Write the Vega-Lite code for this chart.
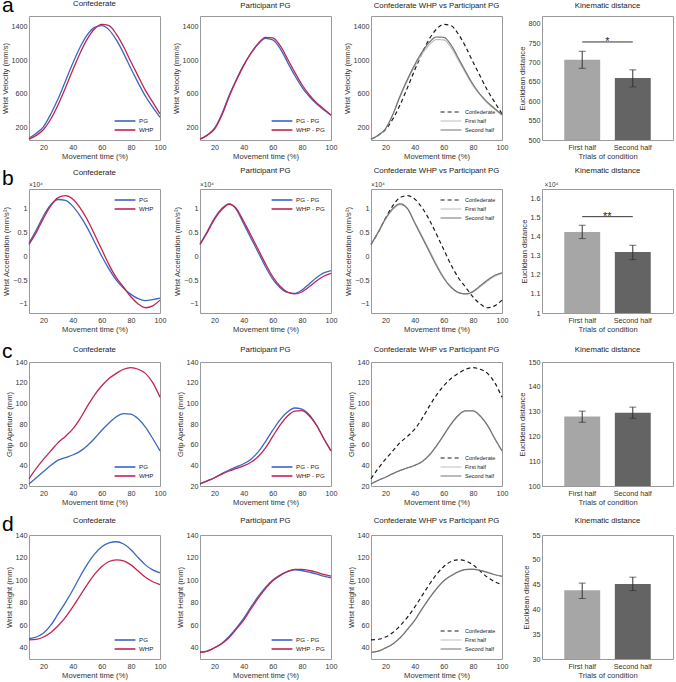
{
"$schema":"https://vega.github.io/schema/vega-lite/v6.json",
"background":"white",
"padding":{"left":0,"top":-6,"right":0,"bottom":0},
"columns":4,
"spacing":{"row":49,"column":40},
"bounds":"flush",
"resolve":{"scale":{"color":"independent","strokeDash":"independent","strokeWidth":"independent","x":"independent","y":"independent"},"legend":{"color":"independent","strokeDash":"independent","strokeWidth":"independent"}},
"config":{
 "font":"Liberation Sans",
 "view":{"stroke":"#9a9a9a","strokeWidth":1},
 "axis":{"grid":false,"ticks":false,"domain":false,"labelFontSize":7.2,"titleFontSize":7.6,"titleFontWeight":"normal","labelColor":"#333","titleColor":"#333","labelPadding":3,"titlePadding":2,"labelFlush":false,"labelOverlap":false},
 "axisY":{"labelPadding":2,"titlePadding":2},
 "title":{"fontSize":7.8,"fontWeight":"normal","color":"#222","offset":5},
 "legend":{"labelFontSize":6.2,"labelColor":"#222","symbolType":"M-2.6,0L2.6,0","symbolSize":64,"symbolStrokeWidth":1.6,"rowPadding":0,"padding":2,"offset":4,"labelOffset":9}
},
"datasets":{
"lines":[
{"g":"a1","s":"PG","t":10,"v":70},{"g":"a1","s":"PG","t":15,"v":130},{"g":"a1","s":"PG","t":20,"v":210},{"g":"a1","s":"PG","t":25,"v":360},{"g":"a1","s":"PG","t":30,"v":540},{"g":"a1","s":"PG","t":35,"v":750},{"g":"a1","s":"PG","t":40,"v":960},{"g":"a1","s":"PG","t":45,"v":1150},{"g":"a1","s":"PG","t":50,"v":1300},{"g":"a1","s":"PG","t":55,"v":1390},{"g":"a1","s":"PG","t":60,"v":1410},{"g":"a1","s":"PG","t":65,"v":1360},{"g":"a1","s":"PG","t":70,"v":1240},{"g":"a1","s":"PG","t":75,"v":1080},{"g":"a1","s":"PG","t":80,"v":900},{"g":"a1","s":"PG","t":85,"v":730},{"g":"a1","s":"PG","t":90,"v":570},{"g":"a1","s":"PG","t":95,"v":440},{"g":"a1","s":"PG","t":100,"v":320},
{"g":"a1","s":"WHP","t":10,"v":60},{"g":"a1","s":"WHP","t":15,"v":105},{"g":"a1","s":"WHP","t":20,"v":175},{"g":"a1","s":"WHP","t":25,"v":300},{"g":"a1","s":"WHP","t":30,"v":470},{"g":"a1","s":"WHP","t":35,"v":670},{"g":"a1","s":"WHP","t":40,"v":880},{"g":"a1","s":"WHP","t":45,"v":1080},{"g":"a1","s":"WHP","t":50,"v":1250},{"g":"a1","s":"WHP","t":55,"v":1370},{"g":"a1","s":"WHP","t":60,"v":1425},{"g":"a1","s":"WHP","t":65,"v":1410},{"g":"a1","s":"WHP","t":70,"v":1310},{"g":"a1","s":"WHP","t":75,"v":1160},{"g":"a1","s":"WHP","t":80,"v":980},{"g":"a1","s":"WHP","t":85,"v":810},{"g":"a1","s":"WHP","t":90,"v":640},{"g":"a1","s":"WHP","t":95,"v":500},{"g":"a1","s":"WHP","t":100,"v":360},
{"g":"a2","s":"PG - PG","t":10,"v":60},{"g":"a2","s":"PG - PG","t":15,"v":110},{"g":"a2","s":"PG - PG","t":20,"v":190},{"g":"a2","s":"PG - PG","t":25,"v":360},{"g":"a2","s":"PG - PG","t":30,"v":580},{"g":"a2","s":"PG - PG","t":35,"v":770},{"g":"a2","s":"PG - PG","t":40,"v":940},{"g":"a2","s":"PG - PG","t":45,"v":1080},{"g":"a2","s":"PG - PG","t":50,"v":1190},{"g":"a2","s":"PG - PG","t":55,"v":1260},{"g":"a2","s":"PG - PG","t":60,"v":1240},{"g":"a2","s":"PG - PG","t":65,"v":1140},{"g":"a2","s":"PG - PG","t":70,"v":980},{"g":"a2","s":"PG - PG","t":75,"v":820},{"g":"a2","s":"PG - PG","t":80,"v":680},{"g":"a2","s":"PG - PG","t":85,"v":570},{"g":"a2","s":"PG - PG","t":90,"v":480},{"g":"a2","s":"PG - PG","t":95,"v":410},{"g":"a2","s":"PG - PG","t":100,"v":345},
{"g":"a2","s":"WHP - PG","t":10,"v":60},{"g":"a2","s":"WHP - PG","t":15,"v":105},{"g":"a2","s":"WHP - PG","t":20,"v":180},{"g":"a2","s":"WHP - PG","t":25,"v":345},{"g":"a2","s":"WHP - PG","t":30,"v":565},{"g":"a2","s":"WHP - PG","t":35,"v":760},{"g":"a2","s":"WHP - PG","t":40,"v":935},{"g":"a2","s":"WHP - PG","t":45,"v":1085},{"g":"a2","s":"WHP - PG","t":50,"v":1200},{"g":"a2","s":"WHP - PG","t":55,"v":1270},{"g":"a2","s":"WHP - PG","t":60,"v":1265},{"g":"a2","s":"WHP - PG","t":65,"v":1175},{"g":"a2","s":"WHP - PG","t":70,"v":1020},{"g":"a2","s":"WHP - PG","t":75,"v":860},{"g":"a2","s":"WHP - PG","t":80,"v":710},{"g":"a2","s":"WHP - PG","t":85,"v":590},{"g":"a2","s":"WHP - PG","t":90,"v":495},{"g":"a2","s":"WHP - PG","t":95,"v":420},{"g":"a2","s":"WHP - PG","t":100,"v":345},
{"g":"a3","s":"Confederate","t":10,"v":60},{"g":"a3","s":"Confederate","t":15,"v":105},{"g":"a3","s":"Confederate","t":20,"v":175},{"g":"a3","s":"Confederate","t":25,"v":300},{"g":"a3","s":"Confederate","t":30,"v":470},{"g":"a3","s":"Confederate","t":35,"v":670},{"g":"a3","s":"Confederate","t":40,"v":880},{"g":"a3","s":"Confederate","t":45,"v":1080},{"g":"a3","s":"Confederate","t":50,"v":1250},{"g":"a3","s":"Confederate","t":55,"v":1370},{"g":"a3","s":"Confederate","t":60,"v":1425},{"g":"a3","s":"Confederate","t":65,"v":1410},{"g":"a3","s":"Confederate","t":70,"v":1310},{"g":"a3","s":"Confederate","t":75,"v":1160},{"g":"a3","s":"Confederate","t":80,"v":980},{"g":"a3","s":"Confederate","t":85,"v":810},{"g":"a3","s":"Confederate","t":90,"v":640},{"g":"a3","s":"Confederate","t":95,"v":500},{"g":"a3","s":"Confederate","t":100,"v":360},
{"g":"a3","s":"First half","t":10,"v":60},{"g":"a3","s":"First half","t":15,"v":108},{"g":"a3","s":"First half","t":20,"v":185},{"g":"a3","s":"First half","t":25,"v":350},{"g":"a3","s":"First half","t":30,"v":565},{"g":"a3","s":"First half","t":35,"v":755},{"g":"a3","s":"First half","t":40,"v":925},{"g":"a3","s":"First half","t":45,"v":1070},{"g":"a3","s":"First half","t":50,"v":1180},{"g":"a3","s":"First half","t":55,"v":1245},{"g":"a3","s":"First half","t":60,"v":1240},{"g":"a3","s":"First half","t":65,"v":1150},{"g":"a3","s":"First half","t":70,"v":1000},{"g":"a3","s":"First half","t":75,"v":845},{"g":"a3","s":"First half","t":80,"v":700},{"g":"a3","s":"First half","t":85,"v":585},{"g":"a3","s":"First half","t":90,"v":490},{"g":"a3","s":"First half","t":95,"v":415},{"g":"a3","s":"First half","t":100,"v":345},
{"g":"a3","s":"Second half","t":10,"v":60},{"g":"a3","s":"Second half","t":15,"v":108},{"g":"a3","s":"Second half","t":20,"v":185},{"g":"a3","s":"Second half","t":25,"v":355},{"g":"a3","s":"Second half","t":30,"v":575},{"g":"a3","s":"Second half","t":35,"v":770},{"g":"a3","s":"Second half","t":40,"v":945},{"g":"a3","s":"Second half","t":45,"v":1095},{"g":"a3","s":"Second half","t":50,"v":1210},{"g":"a3","s":"Second half","t":55,"v":1275},{"g":"a3","s":"Second half","t":60,"v":1270},{"g":"a3","s":"Second half","t":65,"v":1180},{"g":"a3","s":"Second half","t":70,"v":1025},{"g":"a3","s":"Second half","t":75,"v":865},{"g":"a3","s":"Second half","t":80,"v":715},{"g":"a3","s":"Second half","t":85,"v":595},{"g":"a3","s":"Second half","t":90,"v":500},{"g":"a3","s":"Second half","t":95,"v":425},{"g":"a3","s":"Second half","t":100,"v":350},
{"g":"b1","s":"PG","t":10,"v":0.28},{"g":"b1","s":"PG","t":15,"v":0.55},{"g":"b1","s":"PG","t":20,"v":0.85},{"g":"b1","s":"PG","t":25,"v":1.08},{"g":"b1","s":"PG","t":30,"v":1.19},{"g":"b1","s":"PG","t":35,"v":1.17},{"g":"b1","s":"PG","t":40,"v":1.05},{"g":"b1","s":"PG","t":45,"v":0.85},{"g":"b1","s":"PG","t":50,"v":0.6},{"g":"b1","s":"PG","t":55,"v":0.3},{"g":"b1","s":"PG","t":60,"v":0.0},{"g":"b1","s":"PG","t":65,"v":-0.27},{"g":"b1","s":"PG","t":70,"v":-0.5},{"g":"b1","s":"PG","t":75,"v":-0.67},{"g":"b1","s":"PG","t":80,"v":-0.8},{"g":"b1","s":"PG","t":85,"v":-0.89},{"g":"b1","s":"PG","t":90,"v":-0.93},{"g":"b1","s":"PG","t":95,"v":-0.91},{"g":"b1","s":"PG","t":100,"v":-0.88},
{"g":"b1","s":"WHP","t":10,"v":0.25},{"g":"b1","s":"WHP","t":15,"v":0.5},{"g":"b1","s":"WHP","t":20,"v":0.8},{"g":"b1","s":"WHP","t":25,"v":1.06},{"g":"b1","s":"WHP","t":30,"v":1.23},{"g":"b1","s":"WHP","t":35,"v":1.27},{"g":"b1","s":"WHP","t":40,"v":1.2},{"g":"b1","s":"WHP","t":45,"v":1.02},{"g":"b1","s":"WHP","t":50,"v":0.77},{"g":"b1","s":"WHP","t":55,"v":0.46},{"g":"b1","s":"WHP","t":60,"v":0.14},{"g":"b1","s":"WHP","t":65,"v":-0.18},{"g":"b1","s":"WHP","t":70,"v":-0.45},{"g":"b1","s":"WHP","t":75,"v":-0.65},{"g":"b1","s":"WHP","t":80,"v":-0.85},{"g":"b1","s":"WHP","t":85,"v":-1.0},{"g":"b1","s":"WHP","t":90,"v":-1.08},{"g":"b1","s":"WHP","t":95,"v":-1.04},{"g":"b1","s":"WHP","t":100,"v":-0.92},
{"g":"b2","s":"PG - PG","t":10,"v":0.25},{"g":"b2","s":"PG - PG","t":15,"v":0.52},{"g":"b2","s":"PG - PG","t":20,"v":0.8},{"g":"b2","s":"PG - PG","t":25,"v":1.0},{"g":"b2","s":"PG - PG","t":30,"v":1.1},{"g":"b2","s":"PG - PG","t":35,"v":0.98},{"g":"b2","s":"PG - PG","t":40,"v":0.68},{"g":"b2","s":"PG - PG","t":45,"v":0.38},{"g":"b2","s":"PG - PG","t":50,"v":0.08},{"g":"b2","s":"PG - PG","t":55,"v":-0.22},{"g":"b2","s":"PG - PG","t":60,"v":-0.48},{"g":"b2","s":"PG - PG","t":65,"v":-0.66},{"g":"b2","s":"PG - PG","t":70,"v":-0.76},{"g":"b2","s":"PG - PG","t":75,"v":-0.78},{"g":"b2","s":"PG - PG","t":80,"v":-0.71},{"g":"b2","s":"PG - PG","t":85,"v":-0.58},{"g":"b2","s":"PG - PG","t":90,"v":-0.45},{"g":"b2","s":"PG - PG","t":95,"v":-0.35},{"g":"b2","s":"PG - PG","t":100,"v":-0.3},
{"g":"b2","s":"WHP - PG","t":10,"v":0.25},{"g":"b2","s":"WHP - PG","t":15,"v":0.5},{"g":"b2","s":"WHP - PG","t":20,"v":0.78},{"g":"b2","s":"WHP - PG","t":25,"v":0.98},{"g":"b2","s":"WHP - PG","t":30,"v":1.09},{"g":"b2","s":"WHP - PG","t":35,"v":1.0},{"g":"b2","s":"WHP - PG","t":40,"v":0.73},{"g":"b2","s":"WHP - PG","t":45,"v":0.44},{"g":"b2","s":"WHP - PG","t":50,"v":0.14},{"g":"b2","s":"WHP - PG","t":55,"v":-0.16},{"g":"b2","s":"WHP - PG","t":60,"v":-0.43},{"g":"b2","s":"WHP - PG","t":65,"v":-0.63},{"g":"b2","s":"WHP - PG","t":70,"v":-0.75},{"g":"b2","s":"WHP - PG","t":75,"v":-0.79},{"g":"b2","s":"WHP - PG","t":80,"v":-0.75},{"g":"b2","s":"WHP - PG","t":85,"v":-0.64},{"g":"b2","s":"WHP - PG","t":90,"v":-0.52},{"g":"b2","s":"WHP - PG","t":95,"v":-0.42},{"g":"b2","s":"WHP - PG","t":100,"v":-0.36},
{"g":"b3","s":"Confederate","t":10,"v":0.25},{"g":"b3","s":"Confederate","t":15,"v":0.5},{"g":"b3","s":"Confederate","t":20,"v":0.8},{"g":"b3","s":"Confederate","t":25,"v":1.06},{"g":"b3","s":"Confederate","t":30,"v":1.23},{"g":"b3","s":"Confederate","t":35,"v":1.27},{"g":"b3","s":"Confederate","t":40,"v":1.2},{"g":"b3","s":"Confederate","t":45,"v":1.02},{"g":"b3","s":"Confederate","t":50,"v":0.77},{"g":"b3","s":"Confederate","t":55,"v":0.46},{"g":"b3","s":"Confederate","t":60,"v":0.14},{"g":"b3","s":"Confederate","t":65,"v":-0.18},{"g":"b3","s":"Confederate","t":70,"v":-0.45},{"g":"b3","s":"Confederate","t":75,"v":-0.65},{"g":"b3","s":"Confederate","t":80,"v":-0.85},{"g":"b3","s":"Confederate","t":85,"v":-1.0},{"g":"b3","s":"Confederate","t":90,"v":-1.08},{"g":"b3","s":"Confederate","t":95,"v":-1.04},{"g":"b3","s":"Confederate","t":100,"v":-0.92},
{"g":"b3","s":"First half","t":10,"v":0.25},{"g":"b3","s":"First half","t":15,"v":0.5},{"g":"b3","s":"First half","t":20,"v":0.78},{"g":"b3","s":"First half","t":25,"v":0.98},{"g":"b3","s":"First half","t":30,"v":1.08},{"g":"b3","s":"First half","t":35,"v":1.0},{"g":"b3","s":"First half","t":40,"v":0.72},{"g":"b3","s":"First half","t":45,"v":0.43},{"g":"b3","s":"First half","t":50,"v":0.13},{"g":"b3","s":"First half","t":55,"v":-0.17},{"g":"b3","s":"First half","t":60,"v":-0.44},{"g":"b3","s":"First half","t":65,"v":-0.64},{"g":"b3","s":"First half","t":70,"v":-0.76},{"g":"b3","s":"First half","t":75,"v":-0.79},{"g":"b3","s":"First half","t":80,"v":-0.75},{"g":"b3","s":"First half","t":85,"v":-0.64},{"g":"b3","s":"First half","t":90,"v":-0.52},{"g":"b3","s":"First half","t":95,"v":-0.42},{"g":"b3","s":"First half","t":100,"v":-0.36},
{"g":"b3","s":"Second half","t":10,"v":0.25},{"g":"b3","s":"Second half","t":15,"v":0.51},{"g":"b3","s":"Second half","t":20,"v":0.79},{"g":"b3","s":"Second half","t":25,"v":1.0},{"g":"b3","s":"Second half","t":30,"v":1.1},{"g":"b3","s":"Second half","t":35,"v":1.0},{"g":"b3","s":"Second half","t":40,"v":0.7},{"g":"b3","s":"Second half","t":45,"v":0.4},{"g":"b3","s":"Second half","t":50,"v":0.1},{"g":"b3","s":"Second half","t":55,"v":-0.2},{"g":"b3","s":"Second half","t":60,"v":-0.46},{"g":"b3","s":"Second half","t":65,"v":-0.65},{"g":"b3","s":"Second half","t":70,"v":-0.76},{"g":"b3","s":"Second half","t":75,"v":-0.79},{"g":"b3","s":"Second half","t":80,"v":-0.74},{"g":"b3","s":"Second half","t":85,"v":-0.62},{"g":"b3","s":"Second half","t":90,"v":-0.5},{"g":"b3","s":"Second half","t":95,"v":-0.4},{"g":"b3","s":"Second half","t":100,"v":-0.35},
{"g":"c1","s":"PG","t":10,"v":22},{"g":"c1","s":"PG","t":15,"v":28},{"g":"c1","s":"PG","t":20,"v":34},{"g":"c1","s":"PG","t":25,"v":40},{"g":"c1","s":"PG","t":30,"v":45},{"g":"c1","s":"PG","t":35,"v":47.5},{"g":"c1","s":"PG","t":40,"v":50},{"g":"c1","s":"PG","t":45,"v":53.5},{"g":"c1","s":"PG","t":50,"v":59},{"g":"c1","s":"PG","t":55,"v":66},{"g":"c1","s":"PG","t":60,"v":74},{"g":"c1","s":"PG","t":65,"v":81},{"g":"c1","s":"PG","t":70,"v":87},{"g":"c1","s":"PG","t":75,"v":90},{"g":"c1","s":"PG","t":80,"v":89.5},{"g":"c1","s":"PG","t":85,"v":85},{"g":"c1","s":"PG","t":90,"v":77},{"g":"c1","s":"PG","t":95,"v":66},{"g":"c1","s":"PG","t":100,"v":54},
{"g":"c1","s":"WHP","t":10,"v":27},{"g":"c1","s":"WHP","t":15,"v":37},{"g":"c1","s":"WHP","t":20,"v":46},{"g":"c1","s":"WHP","t":25,"v":54},{"g":"c1","s":"WHP","t":30,"v":62},{"g":"c1","s":"WHP","t":35,"v":68},{"g":"c1","s":"WHP","t":40,"v":75},{"g":"c1","s":"WHP","t":45,"v":85},{"g":"c1","s":"WHP","t":50,"v":97},{"g":"c1","s":"WHP","t":55,"v":108},{"g":"c1","s":"WHP","t":60,"v":117},{"g":"c1","s":"WHP","t":65,"v":124},{"g":"c1","s":"WHP","t":70,"v":129},{"g":"c1","s":"WHP","t":75,"v":133},{"g":"c1","s":"WHP","t":80,"v":134.5},{"g":"c1","s":"WHP","t":85,"v":133},{"g":"c1","s":"WHP","t":90,"v":129},{"g":"c1","s":"WHP","t":95,"v":120},{"g":"c1","s":"WHP","t":100,"v":106},
{"g":"c2","s":"PG - PG","t":10,"v":22},{"g":"c2","s":"PG - PG","t":15,"v":25},{"g":"c2","s":"PG - PG","t":20,"v":28},{"g":"c2","s":"PG - PG","t":25,"v":32},{"g":"c2","s":"PG - PG","t":30,"v":35.5},{"g":"c2","s":"PG - PG","t":35,"v":38.5},{"g":"c2","s":"PG - PG","t":40,"v":41.5},{"g":"c2","s":"PG - PG","t":45,"v":46},{"g":"c2","s":"PG - PG","t":50,"v":53},{"g":"c2","s":"PG - PG","t":55,"v":63},{"g":"c2","s":"PG - PG","t":60,"v":74},{"g":"c2","s":"PG - PG","t":65,"v":84},{"g":"c2","s":"PG - PG","t":70,"v":91.5},{"g":"c2","s":"PG - PG","t":75,"v":95.5},{"g":"c2","s":"PG - PG","t":80,"v":94.5},{"g":"c2","s":"PG - PG","t":85,"v":89},{"g":"c2","s":"PG - PG","t":90,"v":79},{"g":"c2","s":"PG - PG","t":95,"v":66},{"g":"c2","s":"PG - PG","t":100,"v":54},
{"g":"c2","s":"WHP - PG","t":10,"v":22},{"g":"c2","s":"WHP - PG","t":15,"v":25},{"g":"c2","s":"WHP - PG","t":20,"v":28},{"g":"c2","s":"WHP - PG","t":25,"v":31.5},{"g":"c2","s":"WHP - PG","t":30,"v":34.5},{"g":"c2","s":"WHP - PG","t":35,"v":37},{"g":"c2","s":"WHP - PG","t":40,"v":39.5},{"g":"c2","s":"WHP - PG","t":45,"v":43},{"g":"c2","s":"WHP - PG","t":50,"v":48.5},{"g":"c2","s":"WHP - PG","t":55,"v":57},{"g":"c2","s":"WHP - PG","t":60,"v":68},{"g":"c2","s":"WHP - PG","t":65,"v":79},{"g":"c2","s":"WHP - PG","t":70,"v":87.5},{"g":"c2","s":"WHP - PG","t":75,"v":92.5},{"g":"c2","s":"WHP - PG","t":80,"v":93},{"g":"c2","s":"WHP - PG","t":85,"v":88},{"g":"c2","s":"WHP - PG","t":90,"v":79},{"g":"c2","s":"WHP - PG","t":95,"v":66},{"g":"c2","s":"WHP - PG","t":100,"v":54},
{"g":"c3","s":"Confederate","t":10,"v":27},{"g":"c3","s":"Confederate","t":15,"v":37},{"g":"c3","s":"Confederate","t":20,"v":46},{"g":"c3","s":"Confederate","t":25,"v":54},{"g":"c3","s":"Confederate","t":30,"v":62},{"g":"c3","s":"Confederate","t":35,"v":68},{"g":"c3","s":"Confederate","t":40,"v":75},{"g":"c3","s":"Confederate","t":45,"v":85},{"g":"c3","s":"Confederate","t":50,"v":97},{"g":"c3","s":"Confederate","t":55,"v":108},{"g":"c3","s":"Confederate","t":60,"v":117},{"g":"c3","s":"Confederate","t":65,"v":124},{"g":"c3","s":"Confederate","t":70,"v":129},{"g":"c3","s":"Confederate","t":75,"v":133},{"g":"c3","s":"Confederate","t":80,"v":134.5},{"g":"c3","s":"Confederate","t":85,"v":133},{"g":"c3","s":"Confederate","t":90,"v":129},{"g":"c3","s":"Confederate","t":95,"v":120},{"g":"c3","s":"Confederate","t":100,"v":106},
{"g":"c3","s":"First half","t":10,"v":22},{"g":"c3","s":"First half","t":15,"v":25.5},{"g":"c3","s":"First half","t":20,"v":28.5},{"g":"c3","s":"First half","t":25,"v":32},{"g":"c3","s":"First half","t":30,"v":35},{"g":"c3","s":"First half","t":35,"v":37.5},{"g":"c3","s":"First half","t":40,"v":40},{"g":"c3","s":"First half","t":45,"v":43.5},{"g":"c3","s":"First half","t":50,"v":49.5},{"g":"c3","s":"First half","t":55,"v":58.5},{"g":"c3","s":"First half","t":60,"v":69},{"g":"c3","s":"First half","t":65,"v":79.5},{"g":"c3","s":"First half","t":70,"v":88},{"g":"c3","s":"First half","t":75,"v":92.5},{"g":"c3","s":"First half","t":80,"v":92.5},{"g":"c3","s":"First half","t":85,"v":87.5},{"g":"c3","s":"First half","t":90,"v":78.5},{"g":"c3","s":"First half","t":95,"v":66},{"g":"c3","s":"First half","t":100,"v":54},
{"g":"c3","s":"Second half","t":10,"v":22},{"g":"c3","s":"Second half","t":15,"v":25.5},{"g":"c3","s":"Second half","t":20,"v":28.5},{"g":"c3","s":"Second half","t":25,"v":32},{"g":"c3","s":"Second half","t":30,"v":35},{"g":"c3","s":"Second half","t":35,"v":37.5},{"g":"c3","s":"Second half","t":40,"v":40},{"g":"c3","s":"Second half","t":45,"v":43.5},{"g":"c3","s":"Second half","t":50,"v":50},{"g":"c3","s":"Second half","t":55,"v":59},{"g":"c3","s":"Second half","t":60,"v":69.5},{"g":"c3","s":"Second half","t":65,"v":80},{"g":"c3","s":"Second half","t":70,"v":88.5},{"g":"c3","s":"Second half","t":75,"v":92.8},{"g":"c3","s":"Second half","t":80,"v":92.8},{"g":"c3","s":"Second half","t":85,"v":87.8},{"g":"c3","s":"Second half","t":90,"v":78.8},{"g":"c3","s":"Second half","t":95,"v":66},{"g":"c3","s":"Second half","t":100,"v":54},
{"g":"d1","s":"PG","t":10,"v":48},{"g":"d1","s":"PG","t":15,"v":49.5},{"g":"d1","s":"PG","t":20,"v":53},{"g":"d1","s":"PG","t":25,"v":60},{"g":"d1","s":"PG","t":30,"v":70},{"g":"d1","s":"PG","t":35,"v":80},{"g":"d1","s":"PG","t":40,"v":91},{"g":"d1","s":"PG","t":45,"v":103},{"g":"d1","s":"PG","t":50,"v":114},{"g":"d1","s":"PG","t":55,"v":123},{"g":"d1","s":"PG","t":60,"v":129.5},{"g":"d1","s":"PG","t":65,"v":133},{"g":"d1","s":"PG","t":70,"v":134},{"g":"d1","s":"PG","t":75,"v":132},{"g":"d1","s":"PG","t":80,"v":127},{"g":"d1","s":"PG","t":85,"v":120},{"g":"d1","s":"PG","t":90,"v":113.5},{"g":"d1","s":"PG","t":95,"v":109},{"g":"d1","s":"PG","t":100,"v":106.5},
{"g":"d1","s":"WHP","t":10,"v":47},{"g":"d1","s":"WHP","t":15,"v":47.5},{"g":"d1","s":"WHP","t":20,"v":49.5},{"g":"d1","s":"WHP","t":25,"v":53.5},{"g":"d1","s":"WHP","t":30,"v":59.5},{"g":"d1","s":"WHP","t":35,"v":67},{"g":"d1","s":"WHP","t":40,"v":76},{"g":"d1","s":"WHP","t":45,"v":86},{"g":"d1","s":"WHP","t":50,"v":96},{"g":"d1","s":"WHP","t":55,"v":105},{"g":"d1","s":"WHP","t":60,"v":112},{"g":"d1","s":"WHP","t":65,"v":116.5},{"g":"d1","s":"WHP","t":70,"v":118},{"g":"d1","s":"WHP","t":75,"v":117},{"g":"d1","s":"WHP","t":80,"v":113.5},{"g":"d1","s":"WHP","t":85,"v":108},{"g":"d1","s":"WHP","t":90,"v":102.5},{"g":"d1","s":"WHP","t":95,"v":98.5},{"g":"d1","s":"WHP","t":100,"v":96},
{"g":"d2","s":"PG - PG","t":10,"v":36},{"g":"d2","s":"PG - PG","t":15,"v":37},{"g":"d2","s":"PG - PG","t":20,"v":40},{"g":"d2","s":"PG - PG","t":25,"v":44},{"g":"d2","s":"PG - PG","t":30,"v":50},{"g":"d2","s":"PG - PG","t":35,"v":57.5},{"g":"d2","s":"PG - PG","t":40,"v":66},{"g":"d2","s":"PG - PG","t":45,"v":76},{"g":"d2","s":"PG - PG","t":50,"v":85.5},{"g":"d2","s":"PG - PG","t":55,"v":93.5},{"g":"d2","s":"PG - PG","t":60,"v":100},{"g":"d2","s":"PG - PG","t":65,"v":104.5},{"g":"d2","s":"PG - PG","t":70,"v":107.5},{"g":"d2","s":"PG - PG","t":75,"v":109},{"g":"d2","s":"PG - PG","t":80,"v":108.5},{"g":"d2","s":"PG - PG","t":85,"v":107},{"g":"d2","s":"PG - PG","t":90,"v":105.5},{"g":"d2","s":"PG - PG","t":95,"v":103.5},{"g":"d2","s":"PG - PG","t":100,"v":102},
{"g":"d2","s":"WHP - PG","t":10,"v":36},{"g":"d2","s":"WHP - PG","t":15,"v":37},{"g":"d2","s":"WHP - PG","t":20,"v":40},{"g":"d2","s":"WHP - PG","t":25,"v":43.5},{"g":"d2","s":"WHP - PG","t":30,"v":49},{"g":"d2","s":"WHP - PG","t":35,"v":56.5},{"g":"d2","s":"WHP - PG","t":40,"v":64.5},{"g":"d2","s":"WHP - PG","t":45,"v":74.5},{"g":"d2","s":"WHP - PG","t":50,"v":84},{"g":"d2","s":"WHP - PG","t":55,"v":92.5},{"g":"d2","s":"WHP - PG","t":60,"v":99.5},{"g":"d2","s":"WHP - PG","t":65,"v":104},{"g":"d2","s":"WHP - PG","t":70,"v":107.5},{"g":"d2","s":"WHP - PG","t":75,"v":109.5},{"g":"d2","s":"WHP - PG","t":80,"v":109.5},{"g":"d2","s":"WHP - PG","t":85,"v":108.5},{"g":"d2","s":"WHP - PG","t":90,"v":107},{"g":"d2","s":"WHP - PG","t":95,"v":105},{"g":"d2","s":"WHP - PG","t":100,"v":103.5},
{"g":"d3","s":"Confederate","t":10,"v":47},{"g":"d3","s":"Confederate","t":15,"v":47.5},{"g":"d3","s":"Confederate","t":20,"v":49.5},{"g":"d3","s":"Confederate","t":25,"v":53.5},{"g":"d3","s":"Confederate","t":30,"v":59.5},{"g":"d3","s":"Confederate","t":35,"v":67},{"g":"d3","s":"Confederate","t":40,"v":76},{"g":"d3","s":"Confederate","t":45,"v":86},{"g":"d3","s":"Confederate","t":50,"v":96},{"g":"d3","s":"Confederate","t":55,"v":105},{"g":"d3","s":"Confederate","t":60,"v":112},{"g":"d3","s":"Confederate","t":65,"v":116.5},{"g":"d3","s":"Confederate","t":70,"v":118},{"g":"d3","s":"Confederate","t":75,"v":117},{"g":"d3","s":"Confederate","t":80,"v":113.5},{"g":"d3","s":"Confederate","t":85,"v":108},{"g":"d3","s":"Confederate","t":90,"v":102.5},{"g":"d3","s":"Confederate","t":95,"v":98.5},{"g":"d3","s":"Confederate","t":100,"v":96},
{"g":"d3","s":"First half","t":10,"v":36},{"g":"d3","s":"First half","t":15,"v":37},{"g":"d3","s":"First half","t":20,"v":40},{"g":"d3","s":"First half","t":25,"v":43.5},{"g":"d3","s":"First half","t":30,"v":49},{"g":"d3","s":"First half","t":35,"v":56.5},{"g":"d3","s":"First half","t":40,"v":64.5},{"g":"d3","s":"First half","t":45,"v":74.5},{"g":"d3","s":"First half","t":50,"v":84},{"g":"d3","s":"First half","t":55,"v":92.5},{"g":"d3","s":"First half","t":60,"v":99.5},{"g":"d3","s":"First half","t":65,"v":104},{"g":"d3","s":"First half","t":70,"v":107.5},{"g":"d3","s":"First half","t":75,"v":109.5},{"g":"d3","s":"First half","t":80,"v":109.8},{"g":"d3","s":"First half","t":85,"v":108.8},{"g":"d3","s":"First half","t":90,"v":107},{"g":"d3","s":"First half","t":95,"v":105},{"g":"d3","s":"First half","t":100,"v":103.5},
{"g":"d3","s":"Second half","t":10,"v":36},{"g":"d3","s":"Second half","t":15,"v":37},{"g":"d3","s":"Second half","t":20,"v":39.8},{"g":"d3","s":"Second half","t":25,"v":43.3},{"g":"d3","s":"Second half","t":30,"v":48.8},{"g":"d3","s":"Second half","t":35,"v":56.2},{"g":"d3","s":"Second half","t":40,"v":64.2},{"g":"d3","s":"Second half","t":45,"v":74.2},{"g":"d3","s":"Second half","t":50,"v":83.7},{"g":"d3","s":"Second half","t":55,"v":92.2},{"g":"d3","s":"Second half","t":60,"v":99.2},{"g":"d3","s":"Second half","t":65,"v":103.8},{"g":"d3","s":"Second half","t":70,"v":107.3},{"g":"d3","s":"Second half","t":75,"v":109.3},{"g":"d3","s":"Second half","t":80,"v":109.5},{"g":"d3","s":"Second half","t":85,"v":108.5},{"g":"d3","s":"Second half","t":90,"v":106.8},{"g":"d3","s":"Second half","t":95,"v":104.8},{"g":"d3","s":"Second half","t":100,"v":103.3}
],
"bars":[
{"g":"a","half":"First half","mean":707,"lo":685,"hi":729},{"g":"a","half":"Second half","mean":660,"lo":637,"hi":681},
{"g":"b","half":"First half","mean":1.425,"lo":1.39,"hi":1.46},{"g":"b","half":"Second half","mean":1.32,"lo":1.28,"hi":1.355},
{"g":"c","half":"First half","mean":128,"lo":125.7,"hi":130.2},{"g":"c","half":"Second half","mean":129.5,"lo":127.3,"hi":131.8},
{"g":"d","half":"First half","mean":43.85,"lo":42.2,"hi":45.3},{"g":"d","half":"Second half","mean":45.1,"lo":43.8,"hi":46.5}
]
},
"concat":[
{"width":131,"height":124,"title":{"text":"Confederate","offset":-13},"layer":[
 {"data":{"name":"lines"},"transform":[{"filter":"datum.g==='a1'"}],"mark":{"type":"line","interpolate":"monotone","strokeWidth":1.3},
  "encoding":{"x":{"field":"t","type":"quantitative","scale":{"domain":[10,100],"nice":false},"axis":{"values":[20,40,60,80,100],"title":"Movement time (%)"}},
   "y":{"field":"v","type":"quantitative","scale":{"domain":[50,1525],"nice":false,"zero":false},"axis":{"values":[200,600,1000,1400],"format":"d","title":"Wrist Velocity (mm/s)"}},
   "color":{"field":"s","type":"nominal","scale":{"domain":["PG","WHP"],"range":["#3b66c4","#c2244f"]},"legend":{"title":null,"orient":"bottom-right","symbolType":"M-2.6,0L2.6,0"}}}},
 {"data":{"values":[{"label":"a"}]},"mark":{"type":"text","align":"left","baseline":"alphabetic","fontSize":21,"dx":-27,"dy":-4,"color":"#000"},
  "encoding":{"x":{"datum":10,"axis":{"values":[20,40,60,80,100],"title":"Movement time (%)"}},"y":{"datum":1525,"axis":{"values":[200,600,1000,1400],"format":"d","title":"Wrist Velocity (mm/s)"}},"text":{"field":"label"}}}
]},
{"width":131,"height":124,"title":{"text":"Participant PG","offset":6.5},"layer":[
 {"data":{"name":"lines"},"transform":[{"filter":"datum.g==='a2'"}],"mark":{"type":"line","interpolate":"monotone","strokeWidth":1.3},
  "encoding":{"x":{"field":"t","type":"quantitative","scale":{"domain":[10,100],"nice":false},"axis":{"values":[20,40,60,80,100],"title":"Movement time (%)"}},
   "y":{"field":"v","type":"quantitative","scale":{"domain":[50,1525],"nice":false,"zero":false},"axis":{"values":[200,600,1000,1400],"format":"d","title":"Wrist Velocity (mm/s)"}},
   "color":{"field":"s","type":"nominal","scale":{"domain":["PG - PG","WHP - PG"],"range":["#3b66c4","#c2244f"]},"legend":{"title":null,"orient":"bottom-right","symbolType":"M-2.6,0L2.6,0"}}}}
]},
{"width":131,"height":124,"title":{"text":"Confederate WHP vs Participant PG","offset":6.5},"layer":[
 {"data":{"name":"lines"},"transform":[{"filter":"datum.g==='a3'"}],"mark":{"type":"line","interpolate":"monotone"},
  "encoding":{"x":{"field":"t","type":"quantitative","scale":{"domain":[10,100],"nice":false},"axis":{"values":[20,40,60,80,100],"title":"Movement time (%)"}},
   "y":{"field":"v","type":"quantitative","scale":{"domain":[50,1525],"nice":false,"zero":false},"axis":{"values":[200,600,1000,1400],"format":"d","title":"Wrist Velocity (mm/s)"}},
   "color":{"field":"s","type":"nominal","scale":{"domain":["Confederate","First half","Second half"],"range":["#1a1a1a","#bdbdbd","#737373"]},"legend":{"title":null,"orient":"bottom-right","labelFontSize":5.5,"symbolType":"M-2.6,0L2.6,0","rowPadding":-1}},
   "strokeDash":{"field":"s","type":"nominal","scale":{"domain":["Confederate","First half","Second half"],"range":[[4,3],[1,0],[1,0]]},"legend":{"title":null,"orient":"bottom-right","labelFontSize":5.5,"symbolType":"M-2.6,0L2.6,0","rowPadding":-1}},
   "strokeWidth":{"field":"s","type":"nominal","scale":{"domain":["Confederate","First half","Second half"],"range":[1.2,1.2,1.7]},"legend":{"title":null,"orient":"bottom-right","labelFontSize":5.5,"symbolType":"M-2.6,0L2.6,0","rowPadding":-1}}}}
]},
{"width":131,"height":124,"title":{"text":"Kinematic distance","offset":6.5},"layer":[
 {"data":{"name":"bars"},"transform":[{"filter":"datum.g==='a'"}],"mark":{"type":"bar","clip":true},
  "encoding":{"x":{"field":"half","type":"nominal","sort":null,"scale":{"paddingInner":0.29,"paddingOuter":0.44},"axis":{"labelAngle":0,"title":"Trials of condition"}},
   "y":{"field":"mean","type":"quantitative","scale":{"domain":[500,820],"nice":false,"zero":false},"axis":{"values":[500,550,600,650,700,750,800],"title":"Euclidean distance"}},
   "color":{"field":"half","type":"nominal","scale":{"domain":["First half","Second half"],"range":["#a6a6a6","#646464"]},"legend":null}}},
 {"data":{"name":"bars"},"transform":[{"filter":"datum.g==='a'"}],"mark":{"type":"errorbar","ticks":{"size":7},"color":"#333"},
  "encoding":{"x":{"field":"half","type":"nominal","sort":null,"axis":{"labelAngle":0,"title":"Trials of condition"}},"y":{"field":"lo","type":"quantitative","axis":{"values":[500,550,600,650,700,750,800],"title":"Euclidean distance"}},"y2":{"field":"hi"}}},
 {"data":{"values":[{"label":"*"}]},"mark":{"type":"rule","color":"#333","strokeWidth":1},
  "encoding":{"x":{"datum":"First half","axis":{"labelAngle":0,"title":"Trials of condition"}},"x2":{"datum":"Second half"},"y":{"datum":753,"axis":{"values":[500,550,600,650,700,750,800],"title":"Euclidean distance"}}}},
 {"data":{"values":[{"label":"*"}]},"mark":{"type":"text","fontSize":11,"baseline":"alphabetic","dy":3,"color":"#222"},
  "encoding":{"x":{"datum":"First half","bandPosition":1.2,"axis":{"labelAngle":0,"title":"Trials of condition"}},"y":{"datum":753,"axis":{"values":[500,550,600,650,700,750,800],"title":"Euclidean distance"}},"text":{"field":"label"}}}
]},

{"width":131,"height":124,"title":{"text":"Confederate","offset":-9},"layer":[
 {"data":{"name":"lines"},"transform":[{"filter":"datum.g==='b1'"}],"mark":{"type":"line","interpolate":"monotone","strokeWidth":1.3},
  "encoding":{"x":{"field":"t","type":"quantitative","scale":{"domain":[10,100],"nice":false},"axis":{"values":[20,40,60,80,100],"title":"Movement time (%)"}},
   "y":{"field":"v","type":"quantitative","scale":{"domain":[-1.19,1.41],"nice":false,"zero":false},"axis":{"values":[-1,-0.5,0,0.5,1],"format":"~g","title":"Wrist Acceleration (mm/s²)"}},
   "color":{"field":"s","type":"nominal","scale":{"domain":["PG","WHP"],"range":["#3b66c4","#c2244f"]},"legend":{"title":null,"orient":"top-right","symbolType":"M-2.6,0L2.6,0"}}}},
 {"data":{"values":[{"label":"b"}]},"mark":{"type":"text","align":"left","baseline":"alphabetic","fontSize":21,"dx":-27,"dy":-4,"color":"#000"},
  "encoding":{"x":{"datum":10,"axis":{"values":[20,40,60,80,100],"title":"Movement time (%)"}},"y":{"datum":1.41,"axis":{"values":[-1,-0.5,0,0.5,1],"format":"~g","title":"Wrist Acceleration (mm/s²)"}},"text":{"field":"label"}}},
 {"data":{"values":[{"label":"×10⁴"}]},"mark":{"type":"text","align":"left","baseline":"bottom","fontSize":6.5,"dy":-1,"color":"#333"},
  "encoding":{"x":{"datum":10,"axis":{"values":[20,40,60,80,100],"title":"Movement time (%)"}},"y":{"datum":1.41,"axis":{"values":[-1,-0.5,0,0.5,1],"format":"~g","title":"Wrist Acceleration (mm/s²)"}},"text":{"field":"label"}}}
]},
{"width":131,"height":124,"title":{"text":"Participant PG","offset":7},"layer":[
 {"data":{"name":"lines"},"transform":[{"filter":"datum.g==='b2'"}],"mark":{"type":"line","interpolate":"monotone","strokeWidth":1.3},
  "encoding":{"x":{"field":"t","type":"quantitative","scale":{"domain":[10,100],"nice":false},"axis":{"values":[20,40,60,80,100],"title":"Movement time (%)"}},
   "y":{"field":"v","type":"quantitative","scale":{"domain":[-1.19,1.41],"nice":false,"zero":false},"axis":{"values":[-1,-0.5,0,0.5,1],"format":"~g","title":"Wrist Acceleration (mm/s²)"}},
   "color":{"field":"s","type":"nominal","scale":{"domain":["PG - PG","WHP - PG"],"range":["#3b66c4","#c2244f"]},"legend":{"title":null,"orient":"top-right","symbolType":"M-2.6,0L2.6,0"}}}},
 {"data":{"values":[{"label":"×10⁴"}]},"mark":{"type":"text","align":"left","baseline":"bottom","fontSize":6.5,"dy":-1,"color":"#333"},
  "encoding":{"x":{"datum":10,"axis":{"values":[20,40,60,80,100],"title":"Movement time (%)"}},"y":{"datum":1.41,"axis":{"values":[-1,-0.5,0,0.5,1],"format":"~g","title":"Wrist Acceleration (mm/s²)"}},"text":{"field":"label"}}}
]},
{"width":131,"height":124,"title":{"text":"Confederate WHP vs Participant PG","offset":7},"layer":[
 {"data":{"name":"lines"},"transform":[{"filter":"datum.g==='b3'"}],"mark":{"type":"line","interpolate":"monotone"},
  "encoding":{"x":{"field":"t","type":"quantitative","scale":{"domain":[10,100],"nice":false},"axis":{"values":[20,40,60,80,100],"title":"Movement time (%)"}},
   "y":{"field":"v","type":"quantitative","scale":{"domain":[-1.19,1.41],"nice":false,"zero":false},"axis":{"values":[-1,-0.5,0,0.5,1],"format":"~g","title":"Wrist Acceleration (mm/s²)"}},
   "color":{"field":"s","type":"nominal","scale":{"domain":["Confederate","First half","Second half"],"range":["#1a1a1a","#bdbdbd","#737373"]},"legend":{"title":null,"orient":"top-right","labelFontSize":5.5,"symbolType":"M-2.6,0L2.6,0","rowPadding":-1}},
   "strokeDash":{"field":"s","type":"nominal","scale":{"domain":["Confederate","First half","Second half"],"range":[[4,3],[1,0],[1,0]]},"legend":{"title":null,"orient":"top-right","labelFontSize":5.5,"symbolType":"M-2.6,0L2.6,0","rowPadding":-1}},
   "strokeWidth":{"field":"s","type":"nominal","scale":{"domain":["Confederate","First half","Second half"],"range":[1.2,1.2,1.7]},"legend":{"title":null,"orient":"top-right","labelFontSize":5.5,"symbolType":"M-2.6,0L2.6,0","rowPadding":-1}}}},
 {"data":{"values":[{"label":"×10⁴"}]},"mark":{"type":"text","align":"left","baseline":"bottom","fontSize":6.5,"dy":-1,"color":"#333"},
  "encoding":{"x":{"datum":10,"axis":{"values":[20,40,60,80,100],"title":"Movement time (%)"}},"y":{"datum":1.41,"axis":{"values":[-1,-0.5,0,0.5,1],"format":"~g","title":"Wrist Acceleration (mm/s²)"}},"text":{"field":"label"}}}
]},
{"width":131,"height":124,"title":{"text":"Kinematic distance","offset":7},"layer":[
 {"data":{"name":"bars"},"transform":[{"filter":"datum.g==='b'"}],"mark":{"type":"bar","clip":true},
  "encoding":{"x":{"field":"half","type":"nominal","sort":null,"scale":{"paddingInner":0.29,"paddingOuter":0.44},"axis":{"labelAngle":0,"title":"Trials of condition"}},
   "y":{"field":"mean","type":"quantitative","scale":{"domain":[1,1.65],"nice":false,"zero":false},"axis":{"values":[1,1.1,1.2,1.3,1.4,1.5,1.6],"format":"~g","title":"Euclidean distance"}},
   "color":{"field":"half","type":"nominal","scale":{"domain":["First half","Second half"],"range":["#a6a6a6","#646464"]},"legend":null}}},
 {"data":{"name":"bars"},"transform":[{"filter":"datum.g==='b'"}],"mark":{"type":"errorbar","ticks":{"size":7},"color":"#333"},
  "encoding":{"x":{"field":"half","type":"nominal","sort":null,"axis":{"labelAngle":0,"title":"Trials of condition"}},"y":{"field":"lo","type":"quantitative","axis":{"values":[1,1.1,1.2,1.3,1.4,1.5,1.6],"format":"~g","title":"Euclidean distance"}},"y2":{"field":"hi"}}},
 {"data":{"values":[{"label":"**"}]},"mark":{"type":"rule","color":"#333","strokeWidth":1},
  "encoding":{"x":{"datum":"First half","axis":{"labelAngle":0,"title":"Trials of condition"}},"x2":{"datum":"Second half"},"y":{"datum":1.505,"axis":{"values":[1,1.1,1.2,1.3,1.4,1.5,1.6],"format":"~g","title":"Euclidean distance"}}}},
 {"data":{"values":[{"label":"**"}]},"mark":{"type":"text","fontSize":11,"baseline":"alphabetic","dy":3,"color":"#222"},
  "encoding":{"x":{"datum":"First half","bandPosition":1.2,"axis":{"labelAngle":0,"title":"Trials of condition"}},"y":{"datum":1.505,"axis":{"values":[1,1.1,1.2,1.3,1.4,1.5,1.6],"format":"~g","title":"Euclidean distance"}},"text":{"field":"label"}}},
 {"data":{"values":[{"label":"×10⁴"}]},"mark":{"type":"text","align":"left","baseline":"bottom","fontSize":6.5,"dy":-1,"color":"#333"},
  "encoding":{"x":{"datum":"First half","bandPosition":-0.55,"axis":{"labelAngle":0,"title":"Trials of condition"}},"y":{"datum":1.65,"axis":{"values":[1,1.1,1.2,1.3,1.4,1.5,1.6],"format":"~g","title":"Euclidean distance"}},"text":{"field":"label"}}}
]},

{"width":131,"height":124,"title":{"text":"Confederate","offset":-12.5},"layer":[
 {"data":{"name":"lines"},"transform":[{"filter":"datum.g==='c1'"}],"mark":{"type":"line","interpolate":"monotone","strokeWidth":1.3},
  "encoding":{"x":{"field":"t","type":"quantitative","scale":{"domain":[10,100],"nice":false},"axis":{"values":[20,40,60,80,100],"title":"Movement time (%)"}},
   "y":{"field":"v","type":"quantitative","scale":{"domain":[20,140],"nice":false,"zero":false},"axis":{"values":[20,40,60,80,100,120,140],"title":"Grip Aperture (mm)"}},
   "color":{"field":"s","type":"nominal","scale":{"domain":["PG","WHP"],"range":["#3b66c4","#c2244f"]},"legend":{"title":null,"orient":"bottom-right","symbolType":"M-2.6,0L2.6,0"}}}},
 {"data":{"values":[{"label":"c"}]},"mark":{"type":"text","align":"left","baseline":"alphabetic","fontSize":21,"dx":-27,"dy":-4,"color":"#000"},
  "encoding":{"x":{"datum":10,"axis":{"values":[20,40,60,80,100],"title":"Movement time (%)"}},"y":{"datum":140,"axis":{"values":[20,40,60,80,100,120,140],"title":"Grip Aperture (mm)"}},"text":{"field":"label"}}}
]},
{"width":131,"height":124,"title":{"text":"Participant PG","offset":4.5},"layer":[
 {"data":{"name":"lines"},"transform":[{"filter":"datum.g==='c2'"}],"mark":{"type":"line","interpolate":"monotone","strokeWidth":1.3},
  "encoding":{"x":{"field":"t","type":"quantitative","scale":{"domain":[10,100],"nice":false},"axis":{"values":[20,40,60,80,100],"title":"Movement time (%)"}},
   "y":{"field":"v","type":"quantitative","scale":{"domain":[20,140],"nice":false,"zero":false},"axis":{"values":[20,40,60,80,100,120,140],"title":"Grip Aperture (mm)"}},
   "color":{"field":"s","type":"nominal","scale":{"domain":["PG - PG","WHP - PG"],"range":["#3b66c4","#c2244f"]},"legend":{"title":null,"orient":"bottom-right","symbolType":"M-2.6,0L2.6,0"}}}}
]},
{"width":131,"height":124,"title":{"text":"Confederate WHP vs Participant PG","offset":4.5},"layer":[
 {"data":{"name":"lines"},"transform":[{"filter":"datum.g==='c3'"}],"mark":{"type":"line","interpolate":"monotone"},
  "encoding":{"x":{"field":"t","type":"quantitative","scale":{"domain":[10,100],"nice":false},"axis":{"values":[20,40,60,80,100],"title":"Movement time (%)"}},
   "y":{"field":"v","type":"quantitative","scale":{"domain":[20,140],"nice":false,"zero":false},"axis":{"values":[20,40,60,80,100,120,140],"title":"Grip Aperture (mm)"}},
   "color":{"field":"s","type":"nominal","scale":{"domain":["Confederate","First half","Second half"],"range":["#1a1a1a","#bdbdbd","#737373"]},"legend":{"title":null,"orient":"bottom-right","labelFontSize":5.5,"symbolType":"M-2.6,0L2.6,0","rowPadding":-1}},
   "strokeDash":{"field":"s","type":"nominal","scale":{"domain":["Confederate","First half","Second half"],"range":[[4,3],[1,0],[1,0]]},"legend":{"title":null,"orient":"bottom-right","labelFontSize":5.5,"symbolType":"M-2.6,0L2.6,0","rowPadding":-1}},
   "strokeWidth":{"field":"s","type":"nominal","scale":{"domain":["Confederate","First half","Second half"],"range":[1.2,1.2,1.7]},"legend":{"title":null,"orient":"bottom-right","labelFontSize":5.5,"symbolType":"M-2.6,0L2.6,0","rowPadding":-1}}}}
]},
{"width":131,"height":124,"title":{"text":"Kinematic distance","offset":4.5},"layer":[
 {"data":{"name":"bars"},"transform":[{"filter":"datum.g==='c'"}],"mark":{"type":"bar","clip":true},
  "encoding":{"x":{"field":"half","type":"nominal","sort":null,"scale":{"paddingInner":0.29,"paddingOuter":0.44},"axis":{"labelAngle":0,"title":"Trials of condition"}},
   "y":{"field":"mean","type":"quantitative","scale":{"domain":[100,150],"nice":false,"zero":false},"axis":{"values":[100,110,120,130,140,150],"title":"Euclidean distance"}},
   "color":{"field":"half","type":"nominal","scale":{"domain":["First half","Second half"],"range":["#a6a6a6","#646464"]},"legend":null}}},
 {"data":{"name":"bars"},"transform":[{"filter":"datum.g==='c'"}],"mark":{"type":"errorbar","ticks":{"size":7},"color":"#333"},
  "encoding":{"x":{"field":"half","type":"nominal","sort":null,"axis":{"labelAngle":0,"title":"Trials of condition"}},"y":{"field":"lo","type":"quantitative","axis":{"values":[100,110,120,130,140,150],"title":"Euclidean distance"}},"y2":{"field":"hi"}}}
]},

{"width":131,"height":124,"title":{"text":"Confederate","offset":-11},"layer":[
 {"data":{"name":"lines"},"transform":[{"filter":"datum.g==='d1'"}],"mark":{"type":"line","interpolate":"monotone","strokeWidth":1.3},
  "encoding":{"x":{"field":"t","type":"quantitative","scale":{"domain":[10,100],"nice":false},"axis":{"values":[20,40,60,80,100],"title":"Movement time (%)"}},
   "y":{"field":"v","type":"quantitative","scale":{"domain":[30,140],"nice":false,"zero":false},"axis":{"values":[40,60,80,100,120,140],"title":"Wrist Height (mm)"}},
   "color":{"field":"s","type":"nominal","scale":{"domain":["PG","WHP"],"range":["#3b66c4","#c2244f"]},"legend":{"title":null,"orient":"bottom-right","symbolType":"M-2.6,0L2.6,0"}}}},
 {"data":{"values":[{"label":"d"}]},"mark":{"type":"text","align":"left","baseline":"alphabetic","fontSize":21,"dx":-27,"dy":-4,"color":"#000"},
  "encoding":{"x":{"datum":10,"axis":{"values":[20,40,60,80,100],"title":"Movement time (%)"}},"y":{"datum":140,"axis":{"values":[40,60,80,100,120,140],"title":"Wrist Height (mm)"}},"text":{"field":"label"}}}
]},
{"width":131,"height":124,"title":{"text":"Participant PG","offset":6},"layer":[
 {"data":{"name":"lines"},"transform":[{"filter":"datum.g==='d2'"}],"mark":{"type":"line","interpolate":"monotone","strokeWidth":1.3},
  "encoding":{"x":{"field":"t","type":"quantitative","scale":{"domain":[10,100],"nice":false},"axis":{"values":[20,40,60,80,100],"title":"Movement time (%)"}},
   "y":{"field":"v","type":"quantitative","scale":{"domain":[30,140],"nice":false,"zero":false},"axis":{"values":[40,60,80,100,120,140],"title":"Wrist Height (mm)"}},
   "color":{"field":"s","type":"nominal","scale":{"domain":["PG - PG","WHP - PG"],"range":["#3b66c4","#c2244f"]},"legend":{"title":null,"orient":"bottom-right","symbolType":"M-2.6,0L2.6,0"}}}}
]},
{"width":131,"height":124,"title":{"text":"Confederate WHP vs Participant PG","offset":6},"layer":[
 {"data":{"name":"lines"},"transform":[{"filter":"datum.g==='d3'"}],"mark":{"type":"line","interpolate":"monotone"},
  "encoding":{"x":{"field":"t","type":"quantitative","scale":{"domain":[10,100],"nice":false},"axis":{"values":[20,40,60,80,100],"title":"Movement time (%)"}},
   "y":{"field":"v","type":"quantitative","scale":{"domain":[30,140],"nice":false,"zero":false},"axis":{"values":[40,60,80,100,120,140],"title":"Wrist Height (mm)"}},
   "color":{"field":"s","type":"nominal","scale":{"domain":["Confederate","First half","Second half"],"range":["#1a1a1a","#bdbdbd","#737373"]},"legend":{"title":null,"orient":"bottom-right","labelFontSize":5.5,"symbolType":"M-2.6,0L2.6,0","rowPadding":-1}},
   "strokeDash":{"field":"s","type":"nominal","scale":{"domain":["Confederate","First half","Second half"],"range":[[4,3],[1,0],[1,0]]},"legend":{"title":null,"orient":"bottom-right","labelFontSize":5.5,"symbolType":"M-2.6,0L2.6,0","rowPadding":-1}},
   "strokeWidth":{"field":"s","type":"nominal","scale":{"domain":["Confederate","First half","Second half"],"range":[1.2,1.2,1.7]},"legend":{"title":null,"orient":"bottom-right","labelFontSize":5.5,"symbolType":"M-2.6,0L2.6,0","rowPadding":-1}}}}
]},
{"width":131,"height":124,"title":{"text":"Kinematic distance","offset":6},"layer":[
 {"data":{"name":"bars"},"transform":[{"filter":"datum.g==='d'"}],"mark":{"type":"bar","clip":true},
  "encoding":{"x":{"field":"half","type":"nominal","sort":null,"scale":{"paddingInner":0.29,"paddingOuter":0.44},"axis":{"labelAngle":0,"title":"Trials of condition"}},
   "y":{"field":"mean","type":"quantitative","scale":{"domain":[30,55],"nice":false,"zero":false},"axis":{"values":[30,35,40,45,50,55],"title":"Euclidean distance"}},
   "color":{"field":"half","type":"nominal","scale":{"domain":["First half","Second half"],"range":["#a6a6a6","#646464"]},"legend":null}}},
 {"data":{"name":"bars"},"transform":[{"filter":"datum.g==='d'"}],"mark":{"type":"errorbar","ticks":{"size":7},"color":"#333"},
  "encoding":{"x":{"field":"half","type":"nominal","sort":null,"axis":{"labelAngle":0,"title":"Trials of condition"}},"y":{"field":"lo","type":"quantitative","axis":{"values":[30,35,40,45,50,55],"title":"Euclidean distance"}},"y2":{"field":"hi"}}}
]}
]
}
